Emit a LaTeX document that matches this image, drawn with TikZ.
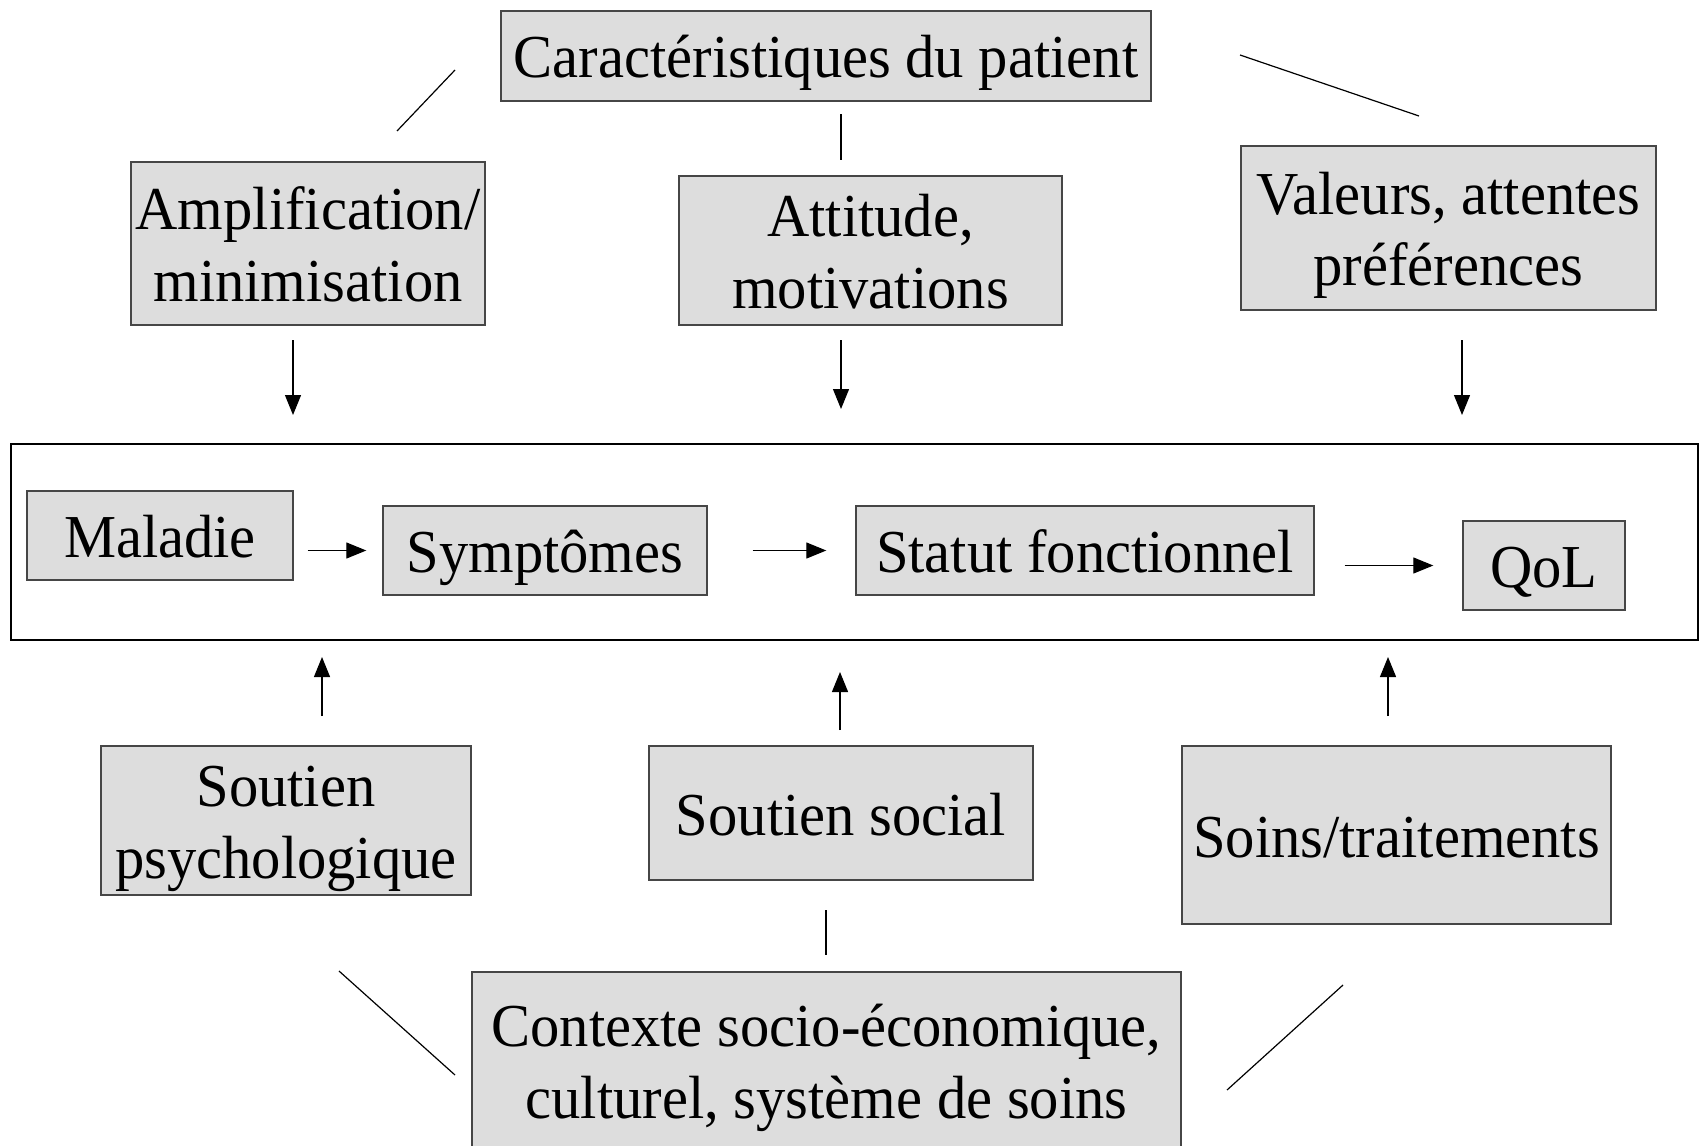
\documentclass[tikz,border=0pt]{standalone}
\usepackage{fontspec}
\setmainfont[FakeStretch=0.96]{Liberation Serif}
\usetikzlibrary{arrows.meta}
\definecolor{boxfill}{RGB}{221,221,221}
\definecolor{boxline}{RGB}{70,70,70}
\newcommand{\mlines}[1]{\begin{tabular}[t]{@{}c@{}}#1\end{tabular}}
\begin{document}
\begin{tikzpicture}[x=0.5pt,y=-0.5pt,
  box/.style={draw=boxline, line width=0.7pt, fill=boxfill, inner sep=0pt,
    font=\fontsize{30.5pt}{35.75pt}\selectfont, text height=26pt, text depth=4pt},
  twoline/.style={text depth=39.75pt},
  frame/.style={draw=black, line width=1.1pt, inner sep=0pt},
  link/.style={line width=0.6pt, draw=black},
  arr/.style={link, -{Triangle[length=10pt,width=8pt]}}]
\path[use as bounding box] (0,0) rectangle (1700,1145);
\clip (0,0) rectangle (1700,1145);

% central frame
\node[frame, minimum width=843.5pt, minimum height=98pt] (big) at (854.5,542) {};

% top boxes
\node[box, minimum width=325pt, minimum height=45pt] (car) at (826,56) {Caractéristiques du patient};
\node[box, twoline, minimum width=177pt, minimum height=81.5pt] (amp) at (308,243.5) {\mlines{Amplification/\\minimisation}};
\node[box, twoline, minimum width=191.5pt, minimum height=74.5pt] (att) at (870.5,250.5) {\mlines{Attitude,\\motivations}};
\node[box, twoline, minimum width=207.5pt, minimum height=82pt] (val) at (1448.5,228) {\mlines{Valeurs, attentes\\préférences}};

% chain
\node[box, minimum width=133pt, minimum height=44.5pt] (mal) at (160,535.5) {Maladie};
\node[box, minimum width=162pt, minimum height=44.5pt] (sym) at (545,550.5) {Symptômes};
\node[box, minimum width=229pt, minimum height=44.5pt] (stat) at (1085,550.5) {Statut fonctionnel};
\node[box, minimum width=81pt, minimum height=44.5pt] (qol) at (1544,565.5) {QoL};

% bottom boxes
\node[box, twoline, minimum width=185pt, minimum height=74.5pt] (psy) at (286,820.5) {\mlines{Soutien\\psychologique}};
\node[box, minimum width=192pt, minimum height=67pt] (soc) at (841,813) {Soutien social};
\node[box, minimum width=214.5pt, minimum height=89pt] (soins) at (1396.5,835) {Soins/traitements};
\node[box, twoline, minimum width=354.5pt, minimum height=88.5pt] (ctx) at (826.5,1060.5) {\mlines{Contexte socio-économique,\\culturel, système de soins}};

% chain arrows
\draw[arr, shorten <=7pt, shorten >=8pt] (mal.east |- sym.center) -- (sym.west);
\draw[arr, shorten <=22.5pt, shorten >=14.5pt] (sym.east) -- (stat.west);
\draw[arr, shorten <=15pt, shorten >=14.5pt] (stat.east |- qol.center) -- (qol.west);

% free connector ends
\coordinate (l1a) at (455,70);   \coordinate (l1b) at (397,131);
\coordinate (l2a) at (841,114);  \coordinate (l2b) at (841,160);
\coordinate (l3a) at (1240,55);  \coordinate (l3b) at (1419,116);
\coordinate (d1a) at (293,340);  \coordinate (d1b) at (293,415);
\coordinate (d2a) at (841,340);  \coordinate (d2b) at (841,409);
\coordinate (d3a) at (1462,340); \coordinate (d3b) at (1462,415);
\coordinate (u1a) at (322,716);  \coordinate (u1b) at (322,657);
\coordinate (u2a) at (840,730);  \coordinate (u2b) at (840,672);
\coordinate (u3a) at (1388,716); \coordinate (u3b) at (1388,657);
\coordinate (l4a) at (826,910);  \coordinate (l4b) at (826,955);
\coordinate (l5a) at (339,971);  \coordinate (l5b) at (455,1075);
\coordinate (l6a) at (1343,985); \coordinate (l6b) at (1227,1090);

\draw[link] (l1a) -- (l1b);
\draw[link] (l2a) -- (l2b);
\draw[link] (l3a) -- (l3b);
\draw[arr] (d1a) -- (d1b);
\draw[arr] (d2a) -- (d2b);
\draw[arr] (d3a) -- (d3b);
\draw[arr] (u1a) -- (u1b);
\draw[arr] (u2a) -- (u2b);
\draw[arr] (u3a) -- (u3b);
\draw[link] (l4a) -- (l4b);
\draw[link] (l5a) -- (l5b);
\draw[link] (l6a) -- (l6b);
\end{tikzpicture}
\end{document}
